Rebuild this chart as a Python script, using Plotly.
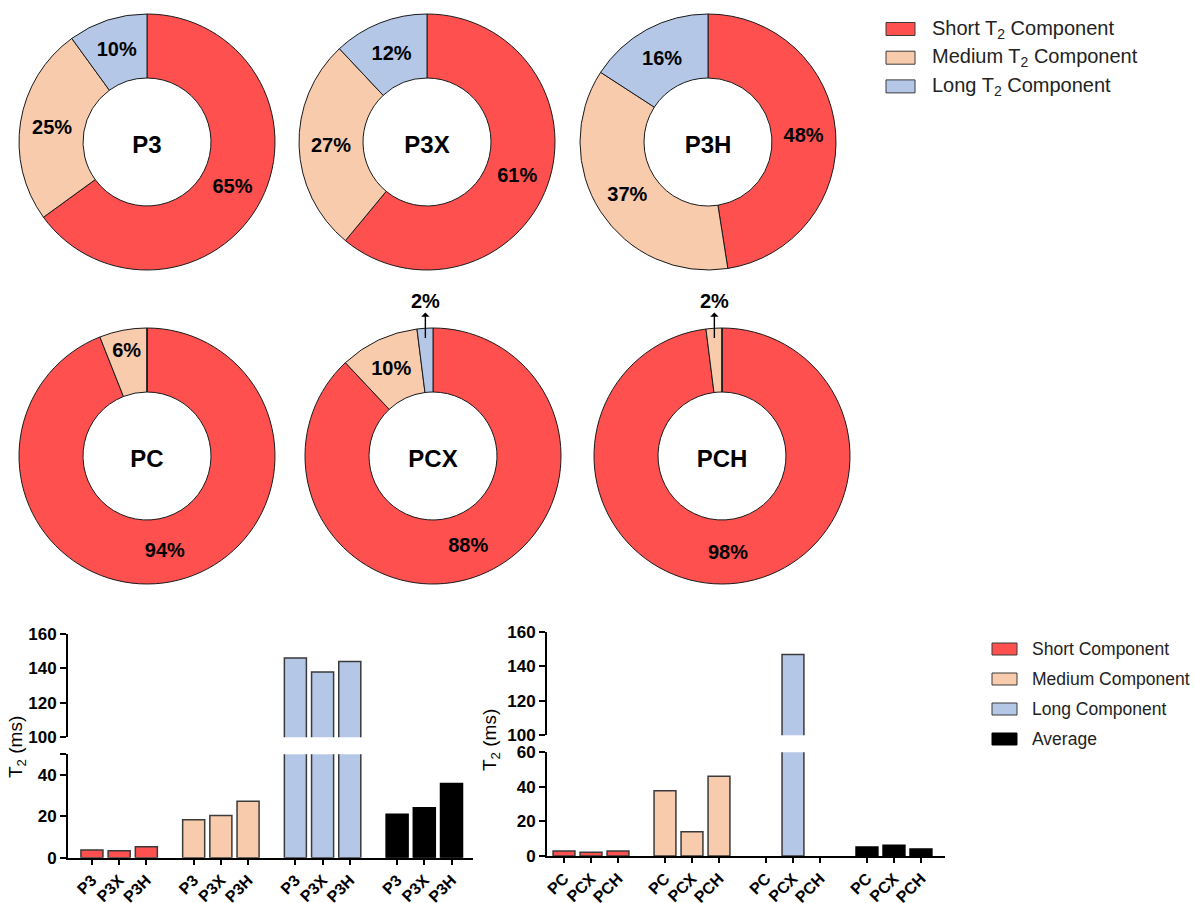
import math
import plotly.graph_objects as go

W, H = 1194, 903
FONT = "Liberation Sans, Arial, sans-serif"

# ---- data -------------------------------------------------------------
samples_p3 = ["P3", "P3X", "P3H"]
samples_pc = ["PC", "PCX", "PCH"]

# relative fraction (%) of each T2 component per sample
short_pct = [65, 61, 48, 94, 88, 98]
medium_pct = [25, 27, 37, 6, 10, 2]
long_pct = [10, 12, 16, 0, 2, 0]
pie_samples = samples_p3 + samples_pc

# T2 relaxation times (ms); None = component not present
t2_short_p3 = [3.7, 3.4, 5.3]
t2_medium_p3 = [18.3, 20.4, 27.3]
t2_long_p3 = [146, 138, 144]
t2_avg_p3 = [21.0, 24.1, 35.9]

t2_short_pc = [2.9, 2.1, 2.9]
t2_medium_pc = [37.8, 14.1, 46.1]
t2_long_pc = [None, 147, None]
t2_avg_pc = [5.2, 6.2, 4.0]

# ---- styling ----------------------------------------------------------
RED = "#FF5050"
PEACH = "#F8CBAD"
BLUE = "#B4C7E7"
BLACK = "#000000"
EDGE = "#3a3a3a"

pie_labels = ["Short", "Medium", "Long"]
pie_colors = [RED, PEACH, BLUE]

# pie centres in pixels
pie_centers = [(147, 142), (427, 142), (708, 142),
               (147, 456), (433, 456), (722, 456)]
R = 128
HOLE = 0.5

fig = go.Figure()
annotations = []
shapes = []


def px_x(x):
    return x / W


def px_y(y):
    return 1 - y / H


for i, name in enumerate(pie_samples):
    vals = [short_pct[i], medium_pct[i], long_pct[i]]
    cx, cy = pie_centers[i]
    texts = [f"{v}%" if v >= 5 else "" for v in vals]
    fig.add_trace(go.Pie(
        labels=pie_labels, values=vals, text=texts,
        textinfo="text", textposition="inside",
        insidetextorientation="horizontal",
        textfont=dict(family=FONT, size=20, color="black", weight="bold"),
        sort=False, direction="clockwise", rotation=0, hole=HOLE,
        marker=dict(colors=pie_colors, line=dict(color="#1a1a1a", width=1)),
        domain=dict(x=[px_x(cx - R), px_x(cx + R)], y=[px_y(cy + R), px_y(cy - R)]),
        title=dict(text=name, position="middle center",
                   font=dict(family=FONT, size=24, color="black", weight="bold")),
        showlegend=False, hoverinfo="label+percent",
    ))
    # tiny slices get a label above the ring with an arrow
    total = sum(vals)
    cum = 0
    for v in vals:
        if 0 < v < 5:
            mid = (cum + v / 2) / total * 2 * math.pi
            x_arrow = cx + math.sin(mid) * R * 0.95
            annotations.append(dict(
                x=px_x(x_arrow), y=px_y(cy - R + 10), xref="paper", yref="paper",
                text=f"<b>{v}%</b>", showarrow=True, arrowside="start",
                arrowhead=2, arrowsize=1.7, arrowwidth=1.4, arrowcolor="black",
                ax=0, ay=-37, standoff=0, startstandoff=0, borderpad=0,
                xanchor="center", yanchor="middle",
                font=dict(family=FONT, size=20, color="black"),
            ))
        cum += v

# ---- bar panels -------------------------------------------------------
GROUP_STEP = 3.74
BAR_W = 0.81


def add_panel(series, xa, ya_low, ya_up):
    for g, (vals, color) in enumerate(series):
        xs = [g * GROUP_STEP + m for m in range(len(vals))]
        line_col = BLACK if color == BLACK else EDGE
        for ya in (ya_low, ya_up):
            fig.add_trace(go.Bar(
                x=xs, y=vals, width=BAR_W, xaxis=xa, yaxis=ya,
                marker=dict(color=color, line=dict(color=line_col, width=1.5)),
                showlegend=False, hoverinfo="y",
            ))


series_p3 = [(t2_short_p3, RED), (t2_medium_p3, PEACH), (t2_long_p3, BLUE), (t2_avg_p3, BLACK)]
series_pc = [(t2_short_pc, RED), (t2_medium_pc, PEACH), (t2_long_pc, BLUE), (t2_avg_pc, BLACK)]
add_panel(series_p3, "x", "y", "y2")
add_panel(series_pc, "x2", "y3", "y4")

tick_pos = [g * GROUP_STEP + m for g in range(4) for m in range(3)]

axis_common = dict(showline=True, linecolor="black", linewidth=2,
                   ticks="outside", ticklen=6, tickwidth=2, tickcolor="black",
                   showgrid=False, zeroline=False, automargin=False,
                   tickfont=dict(family=FONT, size=17, color="black", weight="bold"))
xaxis_style = {**axis_common, "ticklen": 5,
               "tickfont": dict(family=FONT, size=16, color="black", weight="bold")}

fig.update_layout(
    xaxis=dict(domain=[px_x(68), px_x(473)], range=[-0.88, 14.01], anchor="y",
               tickvals=tick_pos, ticktext=samples_p3 * 4, tickangle=-45, **xaxis_style),
    yaxis=dict(domain=[px_y(857.7), px_y(754.3)], range=[0, 50], anchor="x",
               tickvals=[0, 20, 40, 50], ticktext=["0", "20", "40", ""], **axis_common),
    yaxis2=dict(domain=[px_y(737.3), px_y(634)], range=[100, 160], anchor="x",
                tickvals=[100, 120, 140, 160], **axis_common),
    xaxis2=dict(domain=[px_x(547), px_x(945)], range=[-0.63, 14.11], anchor="y3",
                tickvals=tick_pos, ticktext=samples_pc * 4, tickangle=-45, **xaxis_style),
    yaxis3=dict(domain=[px_y(856), px_y(752.3)], range=[0, 60], anchor="x2",
                tickvals=[0, 20, 40, 60], **axis_common),
    yaxis4=dict(domain=[px_y(735.3), px_y(632)], range=[100, 160], anchor="x2",
                tickvals=[100, 120, 140, 160], **axis_common),
)

# y-axis titles spanning both segments of each broken axis
for x_px, y_px in ((17, 747), (491, 740)):
    annotations.append(dict(
        x=px_x(x_px), y=px_y(y_px), xref="paper", yref="paper",
        text="T<sub>2</sub> (ms)", textangle=-90, showarrow=False,
        xanchor="center", yanchor="middle",
        font=dict(family=FONT, size=19, color="black"),
    ))

# ---- legends ----------------------------------------------------------
pie_legend = [("Short T<sub>2</sub> Component", RED),
              ("Medium T<sub>2</sub> Component", PEACH),
              ("Long T<sub>2</sub> Component", BLUE)]
for k, (label, col) in enumerate(pie_legend):
    yc = 29 + k * 28.7
    shapes.append(dict(type="rect", xref="paper", yref="paper",
                       x0=px_x(886), x1=px_x(915), y0=px_y(yc + 6.5), y1=px_y(yc - 6.5),
                       fillcolor=col, line=dict(color=EDGE, width=1)))
    annotations.append(dict(x=px_x(930), y=px_y(yc), xref="paper", yref="paper",
                            text=label, showarrow=False, xanchor="left", yanchor="middle",
                            font=dict(family=FONT, size=20, color="#222")))

bar_legend = [("Short Component", RED), ("Medium Component", PEACH),
              ("Long Component", BLUE), ("Average", BLACK)]
for k, (label, col) in enumerate(bar_legend):
    yc = 649 + k * 30
    shapes.append(dict(type="rect", xref="paper", yref="paper",
                       x0=px_x(992), x1=px_x(1017), y0=px_y(yc + 6), y1=px_y(yc - 6),
                       fillcolor=col, line=dict(color=EDGE if col != BLACK else BLACK, width=1)))
    annotations.append(dict(x=px_x(1030), y=px_y(yc), xref="paper", yref="paper",
                            text=label, showarrow=False, xanchor="left", yanchor="middle",
                            font=dict(family=FONT, size=17.5, color="#222")))

fig.update_layout(
    width=W, height=H, margin=dict(l=0, r=0, t=0, b=0, autoexpand=False),
    paper_bgcolor="white", plot_bgcolor="white",
    barmode="overlay", showlegend=False,
    annotations=annotations, shapes=shapes,
    uniformtext=dict(minsize=20, mode="show"),
    font=dict(family=FONT, color="black"),
)

fig.write_html("out.html")
